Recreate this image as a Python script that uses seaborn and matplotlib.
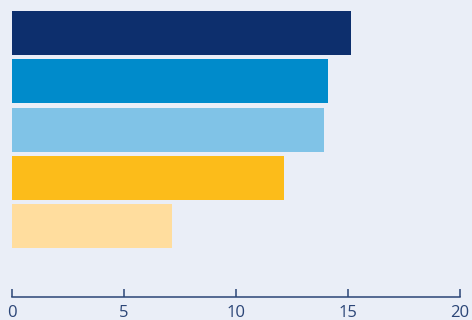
import matplotlib
matplotlib.use("Agg")
import matplotlib.pyplot as plt
import seaborn as sns
import pandas as pd

# data
categories = ["A", "B", "C", "D", "E"]
values = [15.13, 14.11, 13.93, 12.14, 7.14]
colors = ["#0D2F6D", "#008BCB", "#80C3E7", "#FCBC1A", "#FFDD9E"]
xticks = [0, 5, 10, 15, 20]

bg = "#EAEEF7"
axis_col = "#2B4577"

sns.set_style("white")
plt.rcParams['font.family'] = ['Open Sans', 'DejaVu Sans']

df = pd.DataFrame({'cat': categories, 'val': values})

fig = plt.figure(figsize=(4.72, 3.2), dpi=100, facecolor=bg)
ax = fig.add_axes([12 / 472, 23 / 320, 448 / 472, 288 / 320])
ax.set_facecolor(bg)

sns.barplot(data=df, x='val', y='cat', hue='cat', palette=colors,
            orient='h', width=0.91, legend=False, ax=ax, saturation=1,
            linewidth=0, edgecolor='none')

ax.set_xlim(0, 20)
ax.set_ylim(5.47, -0.5)
ax.set_xticks(xticks)
ax.set_xticklabels([str(t) for t in xticks])
ax.set_yticks([])
ax.set_xlabel("")
ax.set_ylabel("")

for s in ['top', 'right', 'left']:
    ax.spines[s].set_visible(False)
ax.spines['bottom'].set_color(axis_col)
ax.spines['bottom'].set_linewidth(1.1)
ax.tick_params(axis='x', bottom=True, direction='in', length=6, width=1.1,
               color=axis_col, labelcolor=axis_col, labelsize=12, pad=6)

fig.savefig("out.png", dpi=100, facecolor=bg)
